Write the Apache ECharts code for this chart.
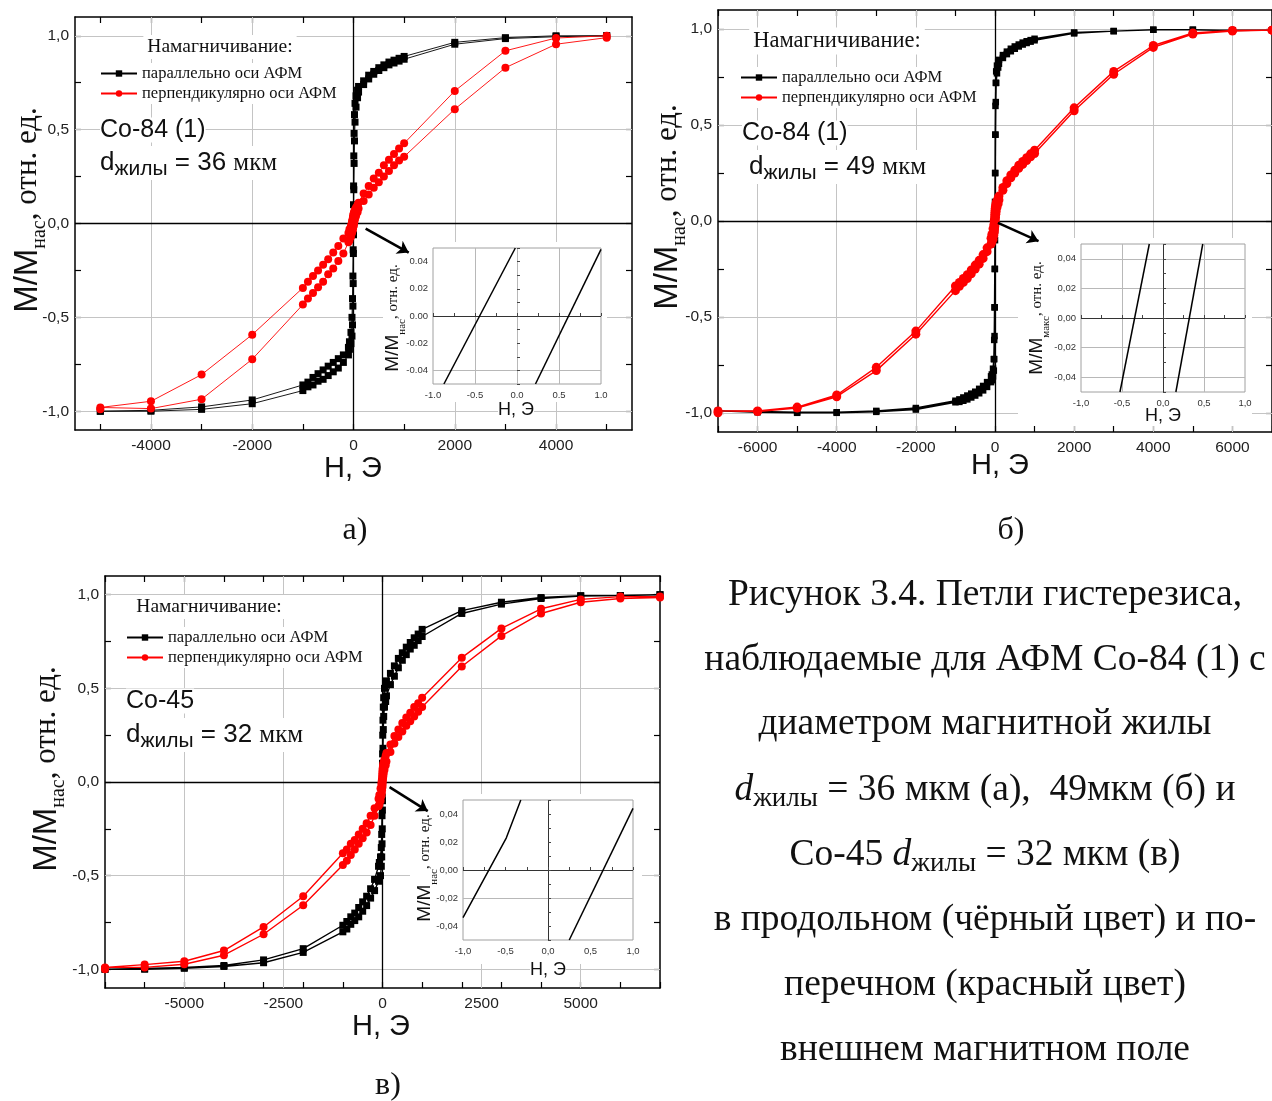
<!DOCTYPE html>
<html><head><meta charset="utf-8">
<script src="https://cdn.jsdelivr.net/npm/echarts@6/dist/echarts.min.js"></script>
<style>html,body{margin:0;padding:0;background:#fff}#c{width:1272px;height:1101px}</style>
</head><body><div id="c"></div><script>
// ---------- DATA ----------
// Panel a (Co-84 (1), 36 мкм): field values, descending branch order
const aH = [5000,4000,3000,2000,1000,900,800,700,600,500,400,300,200,100,80,50,30,20,12,6,2,0,-2,-6,-12,-20,-30,-50,-80,-100,-200,-300,-400,-500,-600,-700,-800,-900,-1000,-2000,-3000,-4000,-5000];
const aBlackDown = [1.0,1.0,0.99,0.965,0.89,0.88,0.87,0.86,0.845,0.83,0.81,0.79,0.76,0.73,0.71,0.68,0.64,0.58,0.48,0.36,0.2,0.1,0.0,-0.14,-0.28,-0.40,-0.50,-0.58,-0.63,-0.66,-0.70,-0.72,-0.74,-0.76,-0.78,-0.80,-0.82,-0.845,-0.86,-0.94,-0.977,-0.995,-1.0];
const aBlackUp   = [1.0,0.995,0.985,0.955,0.875,0.865,0.855,0.845,0.83,0.815,0.795,0.77,0.74,0.70,0.67,0.62,0.54,0.44,0.32,0.18,0.04,-0.06,-0.16,-0.32,-0.44,-0.54,-0.60,-0.64,-0.67,-0.70,-0.74,-0.77,-0.79,-0.81,-0.83,-0.84,-0.86,-0.87,-0.89,-0.96,-0.99,-1.0,-1.0];
const aRedDown   = [1.0,0.988,0.92,0.706,0.427,0.40,0.37,0.34,0.31,0.27,0.24,0.20,0.16,0.11,0.10,0.085,0.075,0.065,0.06,0.055,0.05,0.045,0.04,0.035,0.03,0.02,0.01,-0.01,-0.03,-0.05,-0.08,-0.12,-0.155,-0.19,-0.22,-0.25,-0.28,-0.31,-0.343,-0.592,-0.805,-0.947,-0.98];
const aRedUp     = [0.99,0.955,0.83,0.609,0.356,0.335,0.31,0.28,0.25,0.22,0.19,0.155,0.12,0.08,0.06,0.04,0.025,0.015,0.005,0.0,-0.005,-0.01,-0.015,-0.02,-0.03,-0.04,-0.05,-0.07,-0.09,-0.10,-0.16,-0.20,-0.24,-0.27,-0.31,-0.34,-0.37,-0.40,-0.432,-0.723,-0.936,-0.986,-0.99];

// Panel b (Co-84 (1), 49 мкм)
const bH = [7000,6000,5000,4000,3000,2000,1000,900,800,700,600,500,400,300,200,100,80,50,30,20,12,6,2,0,-2,-6,-12,-20,-30,-50,-80,-100,-200,-300,-400,-500,-600,-700,-800,-900,-1000,-2000,-3000,-4000,-5000,-6000,-7000];
const bBlackDown = [0.995,0.995,0.997,0.997,0.99,0.983,0.95,0.943,0.937,0.93,0.92,0.91,0.898,0.883,0.865,0.84,0.83,0.81,0.78,0.72,0.6,0.45,0.25,0.1,-0.05,-0.25,-0.45,-0.62,-0.72,-0.77,-0.8,-0.81,-0.84,-0.86,-0.875,-0.89,-0.9,-0.91,-0.92,-0.93,-0.937,-0.975,-0.99,-0.997,-0.997,-0.993,-0.99];
const bBlackUp   = [0.995,0.993,0.997,0.997,0.99,0.978,0.942,0.935,0.928,0.92,0.91,0.898,0.885,0.87,0.85,0.82,0.80,0.77,0.72,0.62,0.45,0.25,0.05,-0.1,-0.25,-0.45,-0.6,-0.72,-0.78,-0.81,-0.83,-0.84,-0.865,-0.883,-0.898,-0.91,-0.92,-0.93,-0.937,-0.943,-0.945,-0.983,-0.995,-1.0,-1.0,-0.997,-0.995];
const bRedDown   = [0.995,0.993,0.98,0.915,0.78,0.59,0.369,0.35,0.33,0.31,0.29,0.265,0.24,0.21,0.175,0.13,0.12,0.105,0.095,0.085,0.075,0.065,0.055,0.045,0.035,0.025,0.01,0.0,-0.02,-0.04,-0.07,-0.09,-0.14,-0.175,-0.205,-0.23,-0.255,-0.28,-0.30,-0.32,-0.339,-0.574,-0.763,-0.907,-0.97,-0.99,-0.99];
const bRedUp     = [0.995,0.99,0.975,0.905,0.765,0.575,0.352,0.335,0.315,0.295,0.275,0.25,0.225,0.195,0.16,0.11,0.09,0.07,0.05,0.035,0.02,0.01,0.0,-0.01,-0.02,-0.03,-0.045,-0.06,-0.075,-0.095,-0.11,-0.12,-0.16,-0.195,-0.225,-0.25,-0.275,-0.30,-0.32,-0.34,-0.363,-0.59,-0.78,-0.916,-0.975,-0.993,-1.0];

// Panel c (Co-45, 32 мкм)
const cH = [7000,6000,5000,4000,3000,2000,1000,900,800,700,600,500,400,300,200,100,80,50,30,20,12,6,2,0,-2,-6,-12,-20,-30,-50,-80,-100,-200,-300,-400,-500,-600,-700,-800,-900,-1000,-2000,-3000,-4000,-5000,-6000,-7000];
const cBlackDown = [1.0,0.996,0.995,0.985,0.96,0.915,0.815,0.79,0.77,0.745,0.72,0.69,0.66,0.62,0.58,0.54,0.52,0.50,0.45,0.40,0.33,0.25,0.15,0.1,0.02,-0.08,-0.18,-0.28,-0.35,-0.40,-0.43,-0.45,-0.52,-0.57,-0.61,-0.64,-0.67,-0.70,-0.72,-0.745,-0.765,-0.89,-0.95,-0.98,-0.99,-0.995,-1.0];
const cBlackUp   = [1.0,0.995,0.993,0.98,0.95,0.90,0.777,0.755,0.73,0.71,0.68,0.65,0.61,0.565,0.52,0.46,0.43,0.40,0.35,0.28,0.18,0.08,-0.02,-0.1,-0.15,-0.25,-0.33,-0.40,-0.45,-0.50,-0.52,-0.53,-0.58,-0.62,-0.66,-0.69,-0.72,-0.74,-0.76,-0.785,-0.80,-0.91,-0.965,-0.985,-0.995,-1.0,-1.0];
const cRedDown   = [0.99,0.99,0.975,0.925,0.82,0.664,0.45,0.42,0.40,0.37,0.345,0.315,0.28,0.245,0.20,0.155,0.14,0.12,0.105,0.095,0.085,0.075,0.065,0.055,0.045,0.035,0.02,0.005,-0.01,-0.035,-0.07,-0.09,-0.14,-0.18,-0.22,-0.25,-0.28,-0.31,-0.33,-0.36,-0.38,-0.61,-0.774,-0.90,-0.957,-0.975,-0.99];
const cRedUp     = [0.985,0.98,0.96,0.90,0.78,0.617,0.40,0.375,0.35,0.325,0.30,0.27,0.24,0.205,0.16,0.11,0.09,0.065,0.045,0.03,0.02,0.01,0.0,-0.01,-0.02,-0.03,-0.045,-0.06,-0.075,-0.10,-0.12,-0.13,-0.18,-0.23,-0.27,-0.30,-0.33,-0.36,-0.39,-0.42,-0.443,-0.658,-0.813,-0.925,-0.973,-0.99,-1.0];

// Insets (zoom near zero): [H, M] line vertices
const insetALeft  = [[-0.87,-0.05],[-0.02,0.05]];
const insetARight = [[0.22,-0.05],[1.0,0.049]];
const insetBLeft  = [[-0.525,-0.05],[-0.167,0.05]];
const insetBRight = [[0.157,-0.05],[0.485,0.05]];
const insetCLeft  = [[-1.0,-0.034],[-0.49,0.023],[-0.32,0.05]];
const insetCRight = [[0.25,-0.05],[1.0,0.044]];

// Tick labels
const aXLabels = [-4000,-2000,0,2000,4000];
const bXLabels = [-6000,-4000,-2000,0,2000,4000,6000];
const cXLabels = [-5000,-2500,0,2500,5000];
const yLabels = [-1.0,-0.5,0.0,0.5,1.0];
const insetXLabels = [-1.0,-0.5,0.0,0.5,1.0];
const insetYLabels = [-0.04,-0.02,0.0,0.02,0.04];

const nameBlack = 'параллельно оси АФМ';
const nameRed = 'перпендикулярно оси АФМ';

// ---------- BUILD ----------
function loop(H, down, up){
  const p=[];
  for(let i=0;i<H.length;i++) p.push([H[i],down[i]]);
  for(let i=H.length-1;i>=0;i--) p.push([H[i],up[i]]);
  return p;
}
function steps(a,b,s){const r=[];for(let v=a;v<=b+1e-9;v+=s) r.push(Math.round(v*1000)/1000);return r;}
const SANS='Liberation Sans, Arial, sans-serif', SERIF='Liberation Serif, Times New Roman, serif';
const comma1 = v => (Math.abs(v)<1e-9?0:v).toFixed(1).replace('.',',');
const comma2 = v => (Math.abs(v)<1e-9?0:v).toFixed(2).replace('.',',');
const dot1 = v => (Math.abs(v)<1e-9?0:v).toFixed(1);
const dot2 = v => (Math.abs(v)<1e-9?0:v).toFixed(2);

const grid=[], xAxis=[], yAxis=[], series=[], legend=[], graphic=[];

function mainPanel(g, xr, xLab, xTick, xGrid, dat){
  const gi = grid.length;
  grid.push(Object.assign({containLabel:false, z:0}, g));
  const xb = xAxis.length, yb = yAxis.length;
  const axLine = {show:true, onZero:false, lineStyle:{color:'#000', width:1.5}};
  const lab = {fontSize:15.5, color:'#222', fontFamily:SANS};
  xAxis.push({type:'value', gridIndex:gi, position:'bottom', min:xr[0], max:xr[1], axisLine:axLine,
    axisTick:{inside:true, length:6, customValues:xTick, lineStyle:{color:'#000', width:1.2}},
    axisLabel:Object.assign({customValues:xLab, margin:8, formatter:v=>String(v)}, lab), splitLine:{show:false}});
  xAxis.push({type:'value', gridIndex:gi, position:'top', min:xr[0], max:xr[1], axisLine:axLine,
    axisTick:{inside:true, length:6, customValues:xTick, lineStyle:{color:'#000', width:1.2}},
    axisLabel:{show:false}, splitLine:{show:false}});
  const yTick = steps(-1,1,0.25);
  yAxis.push({type:'value', gridIndex:gi, position:'left', min:-1.1, max:1.1, axisLine:axLine,
    axisTick:{inside:true, length:6, customValues:yTick, lineStyle:{color:'#000', width:1.2}},
    axisLabel:Object.assign({customValues:yLabels, margin:6, formatter:comma1}, lab), splitLine:{show:false}});
  yAxis.push({type:'value', gridIndex:gi, position:'right', min:-1.1, max:1.1, axisLine:axLine,
    axisTick:{inside:true, length:6, customValues:yTick, lineStyle:{color:'#000', width:1.2}},
    axisLabel:{show:false}, splitLine:{show:false}});
  const gl = {color:'#c4c4c4', width:1, type:'solid'};
  const zl = {color:'#000', width:1.3, type:'solid'};
  series.push({type:'line', data:[], xAxisIndex:xb, yAxisIndex:yb, z:1, silent:true,
    markLine:{silent:true, z:1, symbol:['none','none'], label:{show:false}, animation:false,
      data:[].concat(xGrid.map(v=>({xAxis:v, lineStyle:gl})), [-1,-0.5,0.5,1].map(v=>({yAxis:v, lineStyle:gl})),
        [{xAxis:0, lineStyle:zl},{yAxis:0, lineStyle:zl}])}});
  series.push({type:'line', name:nameBlack, data:loop(dat.H,dat.bd,dat.bu), xAxisIndex:xb, yAxisIndex:yb,
    symbol:'rect', symbolSize:dat.bs, lineStyle:{color:'#000', width:dat.lw}, itemStyle:{color:'#000'}, z:3, animation:false});
  series.push({type:'line', name:nameRed, data:loop(dat.H,dat.rd,dat.ru), xAxisIndex:xb, yAxisIndex:yb,
    symbol:'circle', symbolSize:dat.rs, lineStyle:{color:'#ff0000', width:dat.lw}, itemStyle:{color:'#ff0000'}, z:3, animation:false});
  series.push({type:'lines', coordinateSystem:'cartesian2d', xAxisIndex:xb, yAxisIndex:yb, z:6,
    symbol:['none','arrow'], symbolSize:11, lineStyle:{color:'#000', width:2.6, opacity:1},
    data:[{coords:dat.arrow}], animation:false});
}

function insetPanel(g, lines, fmtX, fmtY, xGridGray, yGridGray){
  const gi = grid.length;
  grid.push(Object.assign({show:true, borderColor:'#a0a0a0', borderWidth:1, backgroundColor:'#fff', z:5}, g));
  const xb = xAxis.length, yb = yAxis.length;
  const lab = {fontSize:9.5, color:'#333', fontFamily:SANS};
  xAxis.push({type:'value', gridIndex:gi, min:-1, max:1, z:7, axisLine:{show:false},
    axisTick:{inside:true, length:3, customValues:steps(-1,1,0.25), lineStyle:{color:'#444'}},
    axisLabel:Object.assign({customValues:insetXLabels, margin:6, formatter:fmtX}, lab), splitLine:{show:false}});
  yAxis.push({type:'value', gridIndex:gi, min:-0.05, max:0.05, z:7, axisLine:{show:false},
    axisTick:{inside:true, length:3, customValues:steps(-0.05,0.05,0.01), lineStyle:{color:'#444'}},
    axisLabel:Object.assign({customValues:insetYLabels, margin:5, formatter:fmtY}, lab), splitLine:{show:false}});
  const gl = {color:'#b8b8b8', width:1, type:'solid'};
  const zl = {color:'#333', width:1, type:'solid'};
  series.push({type:'line', data:[], xAxisIndex:xb, yAxisIndex:yb, z:6, silent:true,
    markLine:{silent:true, z:6, symbol:['none','none'], label:{show:false}, animation:false,
      data:[].concat(xGridGray.map(v=>({xAxis:v, lineStyle:gl})), yGridGray.map(v=>({yAxis:v, lineStyle:gl})),
        [{xAxis:0, lineStyle:xGridGray.indexOf(0)>=0?gl:zl},{yAxis:0, lineStyle:zl}])}});
  lines.forEach(l=>series.push({type:'line', data:l, xAxisIndex:xb, yAxisIndex:yb, symbol:'none',
    lineStyle:{color:'#000', width:1.5}, z:8, animation:false}));
}

mainPanel({left:75, top:17, width:557, height:413}, [-5500,5500], aXLabels, steps(-5000,5000,1000), [-4000,-2000,2000,4000],
  {H:aH, bd:aBlackDown, bu:aBlackUp, rd:aRedDown, ru:aRedUp, bs:7, rs:8, lw:0.9, arrow:[[240,-0.027],[1090,-0.155]]});
mainPanel({left:718, top:10, width:560, height:422}, [-7000,7000], bXLabels, steps(-7000,7000,1000), [-6000,-4000,-2000,2000,4000,6000],
  {H:bH, bd:bBlackDown, bu:bBlackUp, rd:bRedDown, ru:bRedUp, bs:6.5, rs:9, lw:1.4, arrow:[[75,-0.01],[1100,-0.105]]});
mainPanel({left:105, top:576, width:555, height:412}, [-7000,7000], cXLabels, steps(-7000,7000,1000), [-5000,-2500,2500,5000],
  {H:cH, bd:cBlackDown, bu:cBlackUp, rd:cRedDown, ru:cRedUp, bs:7, rs:8, lw:1.4, arrow:[[178,-0.027],[1142,-0.155]]});

// white areas behind insets (cover main grid lines)
[[383,242,224,160],[1018,238,234,188],[410,794,232,170]].forEach(r=>graphic.push({type:'rect', shape:{x:r[0],y:r[1],width:r[2],height:r[3]}, style:{fill:'#fff'}, z:4, silent:true}));

insetPanel({left:433, top:248, width:168, height:136}, [insetALeft, insetARight], dot1, dot2, [-0.5,0,0.5], [-0.04]);
insetPanel({left:1081, top:244, width:164, height:148}, [insetBLeft, insetBRight], comma1, comma2, [-0.5,0.5], [0.04,0.02,-0.02,-0.04]);
insetPanel({left:463, top:800, width:170, height:140}, [insetCLeft, insetCRight], comma1, comma2, [], [-0.02]);

// legends
[[100,63],[740,67],[126,627]].forEach((p,i)=>legend.push({left:p[0], top:p[1], orient:'vertical', itemWidth:36, itemHeight:8, itemGap:3,
  backgroundColor:'#fff', padding:[2,2,2,0], data:[nameBlack,nameRed], selectedMode:false, z:10,
  textStyle:{fontFamily:SERIF, fontSize:16.5, color:'#111'}}));

// texts
const yRich = (m,s,r)=>({m:{fontFamily:SANS, fontSize:m, lineHeight:m+10, fill:'#111'}, s:{fontFamily:SERIF, fontSize:s, lineHeight:s, verticalAlign:'bottom', fill:'#111'}, r:{fontFamily:SERIF, fontSize:r, lineHeight:m+10, fill:'#111'}});
function yLab(x,y,sub,m,s,r){graphic.push({type:'text', x:x, y:y, rotation:Math.PI/2, z:20, silent:true,
  style:{text:'{m|M/M}{s|'+sub+'}{r|, отн. ед.}', rich:yRich(m,s,r), align:'center', verticalAlign:'middle'}});}
yLab(28,210,'нас',33,20,31);
yLab(668,207,'нас',33,20,31);
yLab(47,769,'нас',33,20,31);
yLab(393,318,'нас',19,11,15);
yLab(1037,318,'макс',19,11,15);
yLab(425,868,'нас',19,11,15);

const hl = (x,y,fs,bg)=>graphic.push({type:'text', x:x, y:y, z:20, silent:true, style:{text:'H, Э', fontFamily:SANS, fontSize:fs, fill:'#111', align:'center', verticalAlign:'middle', backgroundColor:bg||'transparent'}});
hl(353,469,29); hl(1000,466,29); hl(381,1027,29);
hl(516,410,18,'#fff'); hl(1163,416,18,'#fff'); hl(548,970,18,'#fff');

const pl = (x,y,t)=>graphic.push({type:'text', x:x, y:y, z:20, silent:true, style:{text:t, fontFamily:SERIF, fontSize:32, fill:'#111', align:'center', verticalAlign:'middle'}});
pl(355,531,'а)'); pl(1011,531,'б)'); pl(388,1086,'в)');

const ttl = (x,y,fs)=>graphic.push({type:'text', x:x, y:y, z:20, silent:true, style:{text:'Намагничивание:', fontFamily:SERIF, fontSize:fs, fill:'#111', align:'center', verticalAlign:'middle', backgroundColor:'#fff', padding:[2,4]}});
ttl(220,47,19.5); ttl(837,41,22.5); ttl(209,607,19.5);

const dRich = {d:{fontFamily:SANS, fontSize:26, lineHeight:34}, s:{fontFamily:SANS, fontSize:21, lineHeight:21, verticalAlign:'bottom'}, t:{fontFamily:SANS, fontSize:26, lineHeight:34}, u:{fontFamily:SERIF, fontSize:25, lineHeight:34}};
const sample = (x,y,t)=>graphic.push({type:'text', x:x, y:y, z:20, silent:true, style:{text:t, fontFamily:SANS, fontSize:25, fill:'#111', align:'left', verticalAlign:'middle', backgroundColor:'#fff'}});
const dl = (x,y,n)=>graphic.push({type:'text', x:x, y:y, z:20, silent:true, style:{text:'{d|d}{s|жилы}{t| = '+n+' }{u|мкм}', rich:dRich, fill:'#111', align:'left', verticalAlign:'middle', backgroundColor:'#fff'}});
sample(100,130,'Co-84 (1)'); dl(100,163,'36');
sample(742,133,'Co-84 (1)'); dl(749,167,'49');
sample(126,701,'Co-45'); dl(126,735,'32');

// caption
const capLines = [
  'Рисунок 3.4. Петли гистерезиса,',
  'наблюдаемые для АФМ Со-84 (1) с',
  'диаметром магнитной жилы',
  '{i|d}{s|жилы}{n| = 36 мкм (а),  49мкм (б) и}',
  '{n|Со-45 }{i|d}{s|жилы}{n| = 32 мкм (в)}',
  'в продольном (чёрный цвет) и по-',
  'перечном (красный цвет)',
  'внешнем магнитном поле'];
const capY = [595,660,724,790,855,920,985,1050];
const CF = 37.5;
const capRich = {n:{fontFamily:SERIF, fontSize:CF, lineHeight:44}, i:{fontFamily:SERIF, fontStyle:'italic', fontSize:CF, lineHeight:44}, s:{fontFamily:SERIF, fontSize:27, lineHeight:27, verticalAlign:'bottom'}};
capLines.forEach((t,i)=>graphic.push({type:'text', x:985, y:capY[i], z:20, silent:true,
  style:{text:t, rich:capRich, fontFamily:SERIF, fontSize:CF, fill:'#111', align:'center', verticalAlign:'middle'}}));

const chart = echarts.init(document.getElementById('c'), null, {renderer:'canvas'});
chart.setOption({backgroundColor:'#fff', animation:false, grid, xAxis, yAxis, series, legend, graphic});
</script></body></html>
